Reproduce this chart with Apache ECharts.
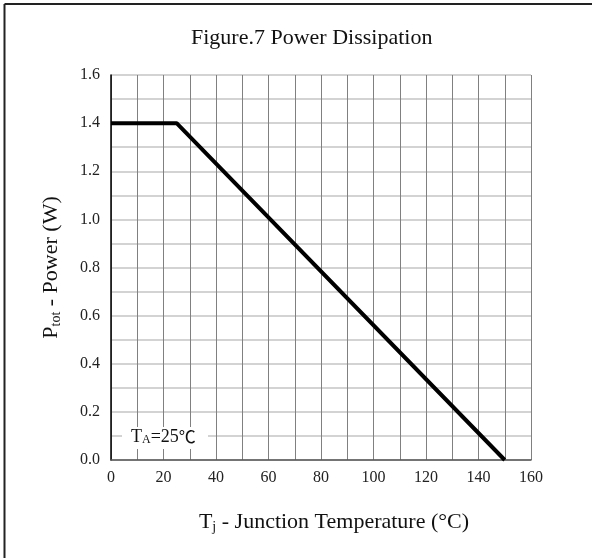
<!DOCTYPE html>
<html>
<head>
<meta charset="utf-8">
<script src="https://cdn.jsdelivr.net/npm/echarts@6/dist/echarts.min.js"></script>
<style>
  html, body { margin: 0; padding: 0; background: #fff; }
  #chart { width: 592px; height: 558px; }
</style>
</head>
<body>
<div id="chart"></div>
<script>
// derating curve points
const tempC = [0, 25, 150];
const powerW = [1.4, 1.4, 0];

const xTicks = { min: 0, max: 160, step: 10 };
const yTicks = { min: 0, max: 1.6, step: 0.1 };

const SERIF = '"Liberation Serif", "Times New Roman", serif';
const CJK = '"Noto Sans CJK SC", sans-serif';

const chart = echarts.init(document.getElementById('chart'));

chart.setOption({
  animation: false,
  backgroundColor: '#fff',
  title: {
    text: 'Figure.7 Power Dissipation',
    left: 186,
    top: 22,
    textStyle: { fontFamily: SERIF, fontSize: 22, fontWeight: 'normal', color: '#111' }
  },
  grid: { left: 111, right: 61, top: 75, bottom: 98 },
  xAxis: {
    type: 'value',
    min: xTicks.min,
    max: xTicks.max,
    interval: xTicks.step,
    name: '{n|T}{s|j}{n| - Junction Temperature (°C)}',
    nameLocation: 'middle',
    nameGap: 50,
    nameTextStyle: {
      padding: [0, 0, 0, 26],
      rich: {
        n: { fontFamily: SERIF, fontSize: 22, color: '#111' },
        s: { fontFamily: SERIF, fontSize: 14, color: '#111', padding: [10, 0, 0, 0] }
      }
    },
    axisLine: { lineStyle: { color: '#555', width: 1.5 } },
    axisTick: { show: false },
    axisLabel: {
      margin: 10,
      fontFamily: SERIF, fontSize: 16, color: '#222',
      formatter: v => (v % 20 === 0 ? String(v) : '')
    },
    splitLine: { lineStyle: { color: '#808080', width: 1 } }
  },
  yAxis: {
    type: 'value',
    min: yTicks.min,
    max: yTicks.max,
    interval: yTicks.step,
    name: '{n|P}{s|tot}{n| - Power (W)}',
    nameLocation: 'middle',
    nameGap: 48,
    nameRotate: 90,
    nameTextStyle: {
      rich: {
        n: { fontFamily: SERIF, fontSize: 22, color: '#111' },
        s: { fontFamily: SERIF, fontSize: 14, color: '#111', padding: [10, 0, 0, 0] }
      }
    },
    axisLine: { show: true, lineStyle: { color: '#000', width: 1.5 } },
    axisTick: { show: false },
    axisLabel: {
      margin: 11,
      fontFamily: SERIF, fontSize: 16, color: '#222',
      formatter: v => {
        const r = Math.round(v * 10);
        return r % 2 === 0 ? (r / 10).toFixed(1) : '';
      }
    },
    splitLine: { lineStyle: { color: '#c4c4c4', width: 1.5 } }
  },
  series: [{
    type: 'line',
    data: tempC.map((t, i) => [t, powerW[i]]),
    symbol: 'none',
    lineStyle: { color: '#000', width: 4 },
    z: 5
  }],
  graphic: [
    {
      type: 'rect',
      shape: { x: 122, y: 427, width: 86, height: 22 },
      style: { fill: '#fff' },
      z: 10
    },
    {
      type: 'text',
      x: 131,
      y: 428,
      z: 11,
      style: {
        text: '{n|T}{s|A}{n|=25}{c|℃}',
        rich: {
          n: { fontFamily: SERIF, fontSize: 18, fill: '#111' },
          s: { fontFamily: SERIF, fontSize: 12, fill: '#111', padding: [6, 0, 0, 0] },
          c: { fontFamily: CJK, fontSize: 17, fill: '#111' }
        }
      }
    },
    {
      type: 'line',
      shape: { x1: 4.5, y1: 4, x2: 592, y2: 4 },
      style: { stroke: '#222', lineWidth: 2 }
    },
    {
      type: 'line',
      shape: { x1: 4.5, y1: 4, x2: 4.5, y2: 558 },
      style: { stroke: '#222', lineWidth: 2 }
    }
  ]
});
</script>
</body>
</html>
